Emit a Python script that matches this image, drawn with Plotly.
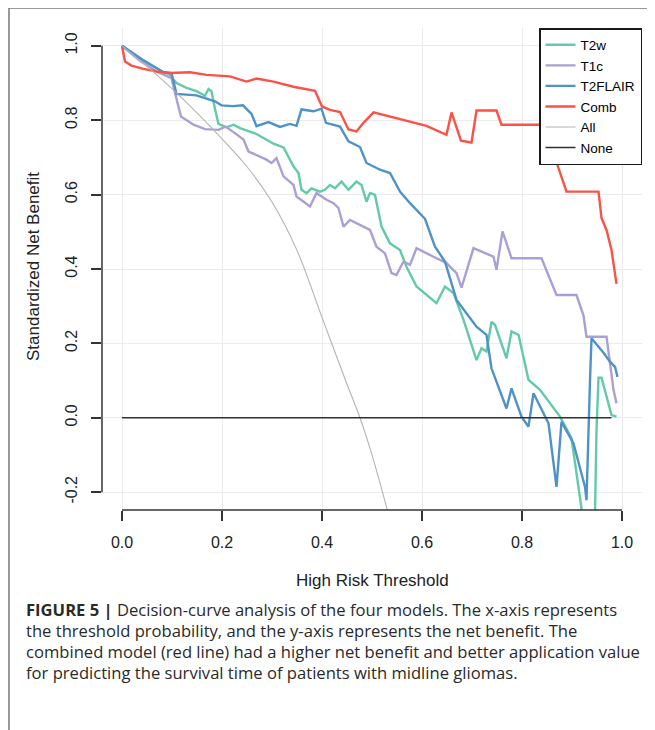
import plotly.graph_objects as go

# ---------------- data ----------------
t2w_x = [0, 0.04, 0.083, 0.093, 0.109, 0.129, 0.149, 0.166, 0.173, 0.179, 0.186, 0.193, 0.209, 0.223, 0.236,
         0.269, 0.303, 0.323, 0.343, 0.353, 0.359, 0.369, 0.379, 0.396, 0.406, 0.416, 0.426, 0.439, 0.453, 0.469,
         0.479, 0.489, 0.496, 0.506, 0.519, 0.536, 0.556, 0.569, 0.589, 0.629, 0.646, 0.663, 0.683, 0.709, 0.719,
         0.729, 0.739, 0.746, 0.769, 0.779, 0.793, 0.813, 0.836, 0.876, 0.899, 0.919, 0.925, 0.940, 0.946, 0.949,
         0.953, 0.959, 0.979, 0.989]
t2w_y = [1.0, 0.963, 0.929, 0.925, 0.900, 0.887, 0.878, 0.866, 0.884, 0.878, 0.830, 0.790, 0.781, 0.788, 0.779,
         0.763, 0.737, 0.727, 0.676, 0.658, 0.613, 0.604, 0.617, 0.608, 0.613, 0.626, 0.617, 0.635, 0.613, 0.635,
         0.626, 0.581, 0.604, 0.599, 0.514, 0.469, 0.451, 0.406, 0.353, 0.308, 0.353, 0.335, 0.263, 0.155, 0.187,
         0.178, 0.258, 0.250, 0.160, 0.232, 0.223, 0.102, 0.075, 0.003, -0.055, -0.26, -0.30, -0.30, -0.26, -0.033,
         0.108, 0.108, 0.007, 0.003]

t1c_x = [0, 0.036, 0.069, 0.099, 0.106, 0.118, 0.143, 0.166, 0.193, 0.207, 0.223, 0.243, 0.253, 0.276, 0.289,
         0.299, 0.309, 0.323, 0.343, 0.349, 0.376, 0.389, 0.409, 0.423, 0.433, 0.443, 0.456, 0.496, 0.509, 0.526,
         0.539, 0.549, 0.563, 0.576, 0.589, 0.623, 0.649, 0.669, 0.679, 0.703, 0.726, 0.743, 0.749, 0.761, 0.779,
         0.839, 0.869, 0.909, 0.923, 0.929, 0.969, 0.976, 0.983, 0.989]
t1c_y = [1.0, 0.960, 0.931, 0.913, 0.873, 0.810, 0.788, 0.776, 0.774, 0.783, 0.768, 0.748, 0.716, 0.703, 0.694,
         0.685, 0.698, 0.649, 0.626, 0.595, 0.568, 0.604, 0.586, 0.577, 0.564, 0.514, 0.532, 0.505, 0.460, 0.442,
         0.389, 0.384, 0.420, 0.411, 0.456, 0.433, 0.416, 0.389, 0.350, 0.456, 0.442, 0.433, 0.398, 0.501, 0.429,
         0.429, 0.330, 0.330, 0.275, 0.218, 0.218, 0.146, 0.075, 0.039]

flair_x = [0, 0.04, 0.083, 0.099, 0.109, 0.149, 0.186, 0.199, 0.222, 0.242, 0.259, 0.269, 0.293, 0.316, 0.336,
           0.349, 0.359, 0.383, 0.399, 0.408, 0.436, 0.453, 0.476, 0.489, 0.516, 0.536, 0.556, 0.576, 0.606, 0.626,
           0.646, 0.669, 0.709, 0.729, 0.739, 0.769, 0.779, 0.799, 0.813, 0.823, 0.853, 0.869, 0.879, 0.903, 0.926,
           0.929, 0.936, 0.939, 0.963, 0.976, 0.986, 0.991]
flair_y = [1.0, 0.963, 0.929, 0.927, 0.871, 0.867, 0.851, 0.840, 0.838, 0.840, 0.817, 0.784, 0.795, 0.782, 0.790,
           0.785, 0.829, 0.824, 0.831, 0.793, 0.783, 0.743, 0.728, 0.685, 0.667, 0.658, 0.608, 0.577, 0.535, 0.460,
           0.420, 0.317, 0.245, 0.223, 0.133, 0.025, 0.079, 0.003, -0.024, 0.066, -0.015, -0.186, -0.011, -0.069,
           -0.186, -0.222, 0.100, 0.214, 0.175, 0.151, 0.137, 0.110]

comb_x = [0, 0.006, 0.019, 0.043, 0.069, 0.096, 0.136, 0.169, 0.216, 0.249, 0.269, 0.303, 0.343, 0.386, 0.400,
          0.416, 0.436, 0.453, 0.469, 0.483, 0.503, 0.609, 0.649, 0.659, 0.678, 0.699, 0.709, 0.749, 0.759, 0.823,
          0.843, 0.873, 0.889, 0.953, 0.959, 0.969, 0.979, 0.989]
comb_y = [1.0, 0.958, 0.947, 0.938, 0.931, 0.927, 0.929, 0.922, 0.918, 0.904, 0.912, 0.904, 0.890, 0.879, 0.837,
          0.828, 0.822, 0.775, 0.770, 0.793, 0.821, 0.785, 0.761, 0.821, 0.745, 0.740, 0.826, 0.826, 0.788, 0.788,
          0.788, 0.671, 0.608, 0.608, 0.537, 0.505, 0.451, 0.360]

all_x = [0, 0.05, 0.10, 0.15, 0.20, 0.25, 0.30, 0.35, 0.40, 0.45, 0.476, 0.50, 0.535]
all_y = [1.0, 0.945, 0.885, 0.820, 0.750, 0.675, 0.580, 0.450, 0.270, 0.090, 0.0, -0.10, -0.27]

none_x = [0, 0.979]
none_y = [0, 0]

series_names = ["T2w", "T1c", "T2FLAIR", "Comb", "All", "None"]
series_colors = ["#62c9aa", "#ab9fd6", "#4f92c8", "#fb5246", "#b4b4b4", "#303030"]
series_widths = [2.4, 2.4, 2.4, 2.4, 1.1, 1.6]

y_tick_vals = [-0.2, 0.0, 0.2, 0.4, 0.6, 0.8, 1.0]
y_tick_text = ["-0.2", "0.0", "0.2", "0.4", "0.6", "0.8", "1.0"]
x_tick_vals = [0.0, 0.2, 0.4, 0.6, 0.8, 1.0]
x_tick_text = ["0.0", "0.2", "0.4", "0.6", "0.8", "1.0"]

caption_lines = [
    "<b>FIGURE 5 |</b> Decision-curve analysis of the four models. The x-axis represents",
    "the threshold probability, and the y-axis represents the net benefit. The",
    "combined model (red line) had a higher net benefit and better application value",
    "for predicting the survival time of patients with midline gliomas.",
]

# ---------------- layout geometry ----------------
# the page body has an 8px margin, so the figure is shifted by that offset
OFF = 8
W, H = 655 - OFF, 730 - OFF
ML, MR, MT, MB = 102 - OFF, 13, 28 - OFF, 220
PW, PH = W - ML - MR, H - MT - MB


def xp(px):
    """reference-window pixel x -> paper coordinate"""
    return (px - OFF - ML) / PW


def yp(py):
    """reference-window pixel y -> paper coordinate"""
    return (H - MB - (py - OFF)) / PH


fig = go.Figure()
xs = [t2w_x, t1c_x, flair_x, comb_x, all_x, none_x]
ys = [t2w_y, t1c_y, flair_y, comb_y, all_y, none_y]
for i in range(6):
    fig.add_trace(go.Scatter(x=xs[i], y=ys[i], mode="lines", name=series_names[i],
                             line=dict(color=series_colors[i], width=series_widths[i],
                                       shape="spline" if i == 4 else "linear"),
                             legendrank=i + 1))

font_main = "Liberation Sans, Arial, sans-serif"

fig.update_layout(
    width=W, height=H, margin=dict(l=ML, r=MR, t=MT, b=MB),
    paper_bgcolor="white", plot_bgcolor="white",
    showlegend=True,
    legend=dict(x=1.0, xanchor="right", y=1.0, yanchor="top",
                bgcolor="white", bordercolor="#1a1a1a", borderwidth=1.5,
                font=dict(family=font_main, size=13.5, color="#000"),
                tracegroupgap=0, itemwidth=30),
    xaxis=dict(range=[-0.04, 1.04], tickvals=x_tick_vals, ticktext=x_tick_text,
               showgrid=True, gridcolor="#ebebeb", gridwidth=1, zeroline=False, showline=False,
               ticks="outside", ticklen=10, tickwidth=1.5, tickcolor="#333",
               tickfont=dict(family=font_main, size=16, color="#222"), ticklabelstandoff=8),
    yaxis=dict(range=[-0.248, 1.048], tickvals=y_tick_vals, ticktext=y_tick_text,
               showgrid=True, gridcolor="#ebebeb", gridwidth=1, zeroline=False, showline=False,
               ticks="outside", ticklen=10, tickwidth=1.5, tickcolor="#333", tickangle=-90,
               tickfont=dict(family=font_main, size=16, color="#222"), ticklabelstandoff=8),
)

# R-style axis lines spanning only the tick range
fig.add_shape(type="line", xref="paper", yref="y", x0=0, x1=0, y0=-0.2, y1=1.0,
              line=dict(color="#333", width=1.5))
fig.add_shape(type="line", xref="x", yref="paper", x0=0, x1=1, y0=0, y1=0,
              line=dict(color="#333", width=1.5))

# frame around the figure (left and top visible)
fig.add_shape(type="line", xref="paper", yref="paper", x0=xp(9), x1=xp(9), y0=yp(731), y1=yp(8),
              line=dict(color="#777", width=1.5))
fig.add_shape(type="line", xref="paper", yref="paper", x0=xp(9), x1=xp(656), y0=yp(8), y1=yp(8),
              line=dict(color="#777", width=1.5))

# axis titles
fig.add_annotation(text="High Risk Threshold", xref="paper", yref="paper", x=xp(372), y=yp(580),
                   xanchor="center", yanchor="middle",
                   showarrow=False, font=dict(family=font_main, size=17, color="#222"))
fig.add_annotation(text="Standardized Net Benefit", xref="paper", yref="paper", x=xp(33), y=yp(267),
                   xanchor="center", yanchor="middle",
                   textangle=-90, showarrow=False, font=dict(family=font_main, size=17, color="#222"))

# caption, one annotation per line for exact line spacing
caption_font = dict(family="Open Sans, Liberation Sans, sans-serif", size=16.6, color="#2a2a2a")
for k, line in enumerate(caption_lines):
    fig.add_annotation(text=line, xref="paper", yref="paper", x=xp(24), y=yp(609 + 21 * k),
                       xanchor="left", yanchor="middle", align="left", showarrow=False,
                       font=caption_font)

fig.write_html("out.html")
